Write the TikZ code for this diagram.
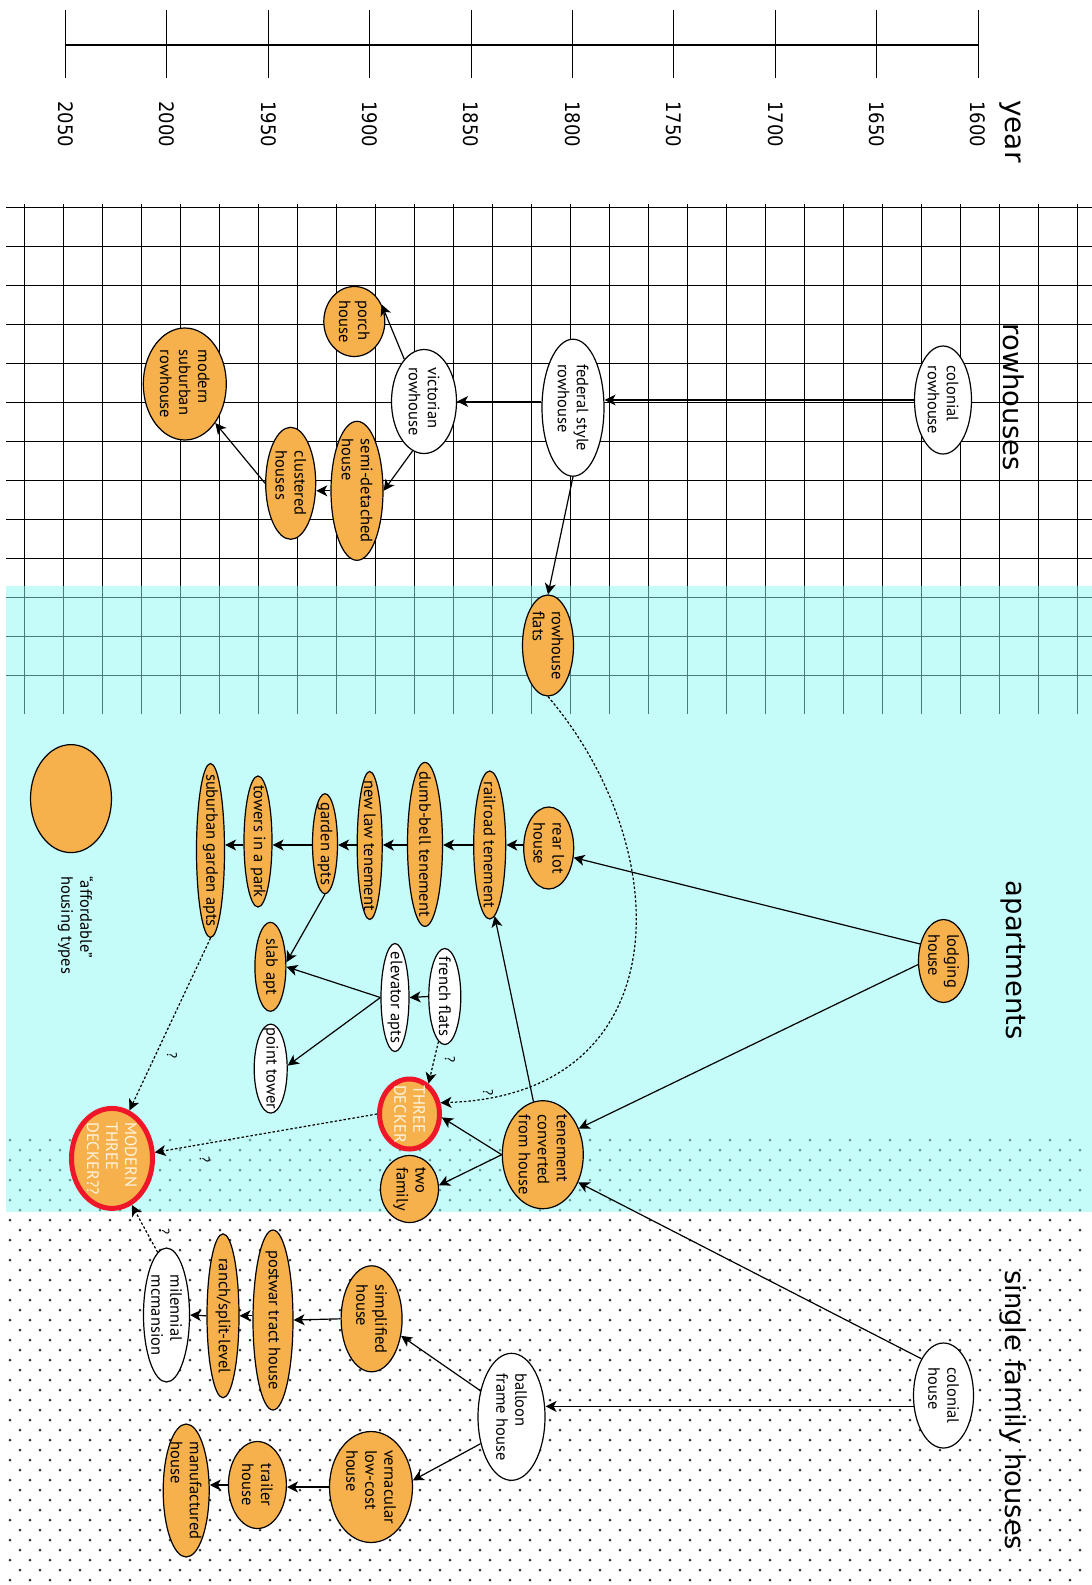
\documentclass[tikz,border=0pt]{standalone}
\usepackage{fontspec}
\setmainfont{PT Sans}
\newfontfamily\dejavu{DejaVu Sans}
\usetikzlibrary{shapes.geometric,arrows.meta}

\definecolor{housefill}{RGB}{246,176,76}
\definecolor{aptcyan}{RGB}{141,249,243}
\definecolor{ringred}{RGB}{238,22,40}
\definecolor{dotgray}{RGB}{52,52,52}
\definecolor{paletext}{RGB}{255,246,225}

\newcommand\housefont{\fontsize{16.5pt}{19pt}\selectfont}
\newcommand\qmarkfont{\fontsize{14pt}{16pt}\selectfont}
\newcommand\titlefont{\dejavu\fontsize{27.4pt}{33pt}\selectfont}
\newcommand\yearfont{\dejavu\fontsize{20pt}{24pt}\selectfont}

\tikzset{
  house/.style={ellipse, draw=black, line width=1.2pt, inner sep=0pt},
  orangehouse/.style={house, fill=housefill},
  whitehouse/.style={house, fill=white},
  ringed/.style={ellipse, draw=ringred, line width=5pt, fill=housefill, inner sep=0pt},
  dims/.style 2 args={minimum width=#1pt, minimum height=#2pt},
  housetext/.style={rotate=-90, align=left, font=\housefont, inner sep=0pt},
  txt/.style={label={[housetext]center:{#1}}},
  paletxt/.style={label={[housetext, text=paletext]center:{#1}}},
  arrowline/.style={line width=1.2pt, -{Stealth[length=11pt, width=11pt, inset=3pt]}},
  dottedline/.style={arrowline, dash pattern=on 2.5pt off 2pt},
  qmark/.style={rotate=-90, font=\qmarkfont, inner sep=0pt},
  gridline/.style={line width=1pt, black},
  sectiontitle/.style={rotate=-90, anchor=west, font=\titlefont, inner sep=0pt},
}

\begin{document}
\begin{tikzpicture}[x=1pt, y=1pt]
\useasboundingbox (0,0) rectangle (1092,-1585);
\fill[white] (0,0) rectangle (1092,-1585);

% time axis
\draw[line width=1.3pt] (65.5,-45) -- (978.1,-45);
\foreach \k in {0,...,9} {
  \pgfmathsetmacro\tx{65.5+101.4*\k}
  \pgfmathtruncatemacro\yr{2050-50*\k}
  \draw[line width=1pt] (\tx,-10) -- (\tx,-78);
  \node[rotate=-90, anchor=west, font=\yearfont, inner sep=0pt] (yr\k) at (\tx,-101) {\scalebox{0.9}[1]{\yr}};
}
\node[sectiontitle, font=\dejavu\fontsize{28pt}{33pt}\selectfont] (yearlabel) at (1010,-100) {year};

% grid behind the rowhouse band
\foreach \k in {0,...,12}
  \draw[gridline] (6,{-207.3-39*\k}) -- (1092,{-207.3-39*\k});
\foreach \k in {0,...,27}
  \draw[gridline] ({24.5+39*\k},-204) -- ({24.5+39*\k},-714);

% dotted field for single family houses
\foreach \r in {0,...,44} {
  \pgfmathsetmacro\off{mod(\r,2)*10}
  \foreach \c in {0,...,53}
    \fill[dotgray] ({10+\off+20*\c},{-1140-10*\r}) circle (1.5);
}

% apartment band
\fill[aptcyan, fill opacity=0.5] (6,-586) rectangle (1092,-1212);

% section titles
\node[sectiontitle] (trow) at (1013.5,-323.5) {rowhouses};
\node[sectiontitle] (tapt) at (1012.8,-880.7) {apartments};
\node[sectiontitle] (tsfh) at (1012.8,-1270) {single family houses};

% rowhouses
\node[whitehouse, dims={57}{108}, txt={colonial\\rowhouse}] (colrow) at (943,-400) {};
\node[whitehouse, dims={62}{137}, txt={federal style\\rowhouse}] (fedrow) at (573,-407.7) {};
\node[whitehouse, dims={65}{104}, txt={victorian\\rowhouse}] (vicrow) at (424,-401.5) {};
\node[orangehouse, dims={61}{70}, txt={porch\\house}] (porch) at (354.3,-321.5) {};
\node[orangehouse, dims={52}{139}, txt={semi-detached\\house}] (semi) at (357,-490.8) {};
\node[orangehouse, dims={50}{112}, txt={clustered\\houses}] (cluster) at (290.7,-483.3) {};
\node[orangehouse, dims={83}{112}, txt={modern\\suburban\\rowhouse}] (modsub) at (184.8,-384) {};
\node[orangehouse, dims={51}{101}, txt={rowhouse\\flats}] (flats) at (548,-645.5) {};

% apartments
\node[orangehouse, dims={50}{83}, txt={lodging\\house}] (lodging) at (943.5,-961) {};
\node[orangehouse, dims={50}{82}, txt={rear lot\\house}] (rearlot) at (548.7,-848) {};
\node[orangehouse, dims={32}{148}, txt={railroad tenement}] (railroad) at (489.7,-845) {};
\node[orangehouse, dims={35}{164}, txt={dumb-bell tenement}] (dumbbell) at (425,-844.4) {};
\node[orangehouse, dims={25}{148}, txt={new law tenement}] (newlaw) at (369.7,-845.5) {};
\node[orangehouse, dims={25}{100}, txt={garden apts}] (garden) at (325,-843.7) {};
\node[orangehouse, dims={28}{131}, txt={towers in a park}] (towers) at (258,-841.5) {};
\node[orangehouse, dims={28}{174}, txt={suburban garden apts}] (subgarden) at (210.5,-850.5) {};
\node[orangehouse, dims={31}{89}, txt={slab apt}] (slab) at (270.4,-966.8) {};
\node[whitehouse, dims={28}{108}, txt={elevator apts}] (elevator) at (395,-997.5) {};
\node[whitehouse, dims={32}{96}, txt={french flats}] (french) at (444.8,-996.5) {};
\node[whitehouse, dims={33}{89}, txt={point tower}] (point) at (270.7,-1068.6) {};
\node[ringed, dims={60}{70}, paletxt={THREE\\DECKER}] (td) at (409.5,-1114) {};
\node[orangehouse, dims={81}{108}, txt={tenement\\converted\\from house}] (tenconv) at (542.8,-1154.7) {};
\node[orangehouse, dims={58}{67}, txt={two\\family}] (twofam) at (409.5,-1189) {};
\node[ringed, dims={81}{100}, paletxt={MODERN\\THREE\\DECKER??}] (modern3) at (112,-1158.4) {};

% legend
\node[orangehouse, dims={81}{108}] (legend) at (71,-798.6) {};
\node[rotate=-90, anchor=west, align=left, font=\housefont, inner sep=0pt] (legendtext) at (75.6,-876) {“affordable”\\housing types};

% single family houses
\node[whitehouse, dims={60}{105}, txt={colonial\\house}] (colhouse) at (943.5,-1395.5) {};
\node[whitehouse, dims={67}{127}, txt={balloon\\frame house}] (balloon) at (511.5,-1416.8) {};
\node[orangehouse, dims={61}{106}, txt={simplified\\house}] (simple) at (371.6,-1318.8) {};
\node[orangehouse, dims={40}{180}, txt={postwar tract house}] (postwar) at (273,-1320) {};
\node[orangehouse, dims={32}{164}, txt={ranch/split-level}] (ranch) at (223,-1315.8) {};
\node[whitehouse, dims={46}{134}, txt={milennial\\mcmansion}] (mcmansion) at (166.5,-1315) {};
\node[orangehouse, dims={83}{111}, txt={vernacular\\low-cost\\house}] (vernac) at (371,-1487) {};
\node[orangehouse, dims={58}{87}, txt={trailer\\house}] (trailer) at (257.4,-1485) {};
\node[orangehouse, dims={46}{133}, txt={manufactured\\house}] (manuf) at (186.2,-1490.5) {};

% rowhouse lineage
\draw[arrowline] (colrow.west) -- (colrow.west -| fedrow.east);
\draw[arrowline] (fedrow.west |- vicrow.east) -- (vicrow.east);
\draw[arrowline] (fedrow.south) -- (flats.north);
\draw[arrowline] (vicrow.115) -- (porch.32);
\draw[arrowline] (vicrow.257) -- (semi.east);
\draw[arrowline] (semi.west) -- (semi.west -| cluster.east);
\draw[arrowline] (cluster.west) -- (modsub.-52);
\draw[dottedline] (flats.south) .. controls (678,-849) and (680,-1095) .. (td.20);

% apartment lineage
\draw[arrowline] (lodging.144) -- (rearlot.-21);
\draw[arrowline] (lodging.188) -- (tenconv.36);
\draw[arrowline] (rearlot.west |- railroad.center) -- (railroad.east);
\draw[arrowline] (railroad.west) -- (dumbbell.east |- railroad.west);
\draw[arrowline] (dumbbell.west |- railroad.west) -- (newlaw.east |- railroad.west);
\draw[arrowline] (newlaw.west |- railroad.west) -- (garden.east |- railroad.west);
\draw[arrowline] (garden.west |- railroad.west) -- (towers.east |- railroad.west);
\draw[arrowline] (towers.west |- railroad.west) -- (subgarden.east |- railroad.west);
\draw[arrowline] (garden.south) -- (slab.16);
\draw[arrowline] (french.west) -- (elevator.east);
\draw[arrowline] (elevator.west) -- (slab.east);
\draw[arrowline] (elevator.west) -- (point.10);
\draw[dottedline] (french.-98) -- (td.58);
\draw[arrowline] (tenconv.100) -- (railroad.-86);
\draw[arrowline] (tenconv.west) -- (td.-6);
\draw[arrowline] (tenconv.west) -- (twofam.7);
\draw[dottedline] (td.west) -- (modern3.8);
\draw[dottedline] (subgarden.south) -- (modern3.70);
\draw[dottedline] (mcmansion.98) -- (modern3.-67);

% single family lineage
\draw[arrowline] (colhouse.121) -- (tenconv.-38);
\draw[arrowline] (colhouse.200) -- (colhouse.200 -| balloon.east);
\draw[arrowline] (balloon.140) -- (simple.-30);
\draw[arrowline] (simple.west) -- (postwar.east);
\draw[arrowline] (postwar.west |- ranch.east) -- (ranch.east);
\draw[arrowline] (ranch.west) -- (mcmansion.east);
\draw[arrowline] (balloon.221) -- (vernac.9);
\draw[arrowline] (vernac.west) -- (vernac.west -| trailer.east);
\draw[arrowline] (trailer.west) -- (trailer.west -| manuf.east);

% open questions
\node[qmark] (q1) at (488,-1093) {?};
\node[qmark] (q2) at (450,-1060) {?};
\node[qmark] (q3) at (204.7,-1160) {?};
\node[qmark] (q4) at (172,-1055.7) {?};
\node[qmark] (q5) at (164.6,-1231.7) {?};
\end{tikzpicture}
\end{document}
